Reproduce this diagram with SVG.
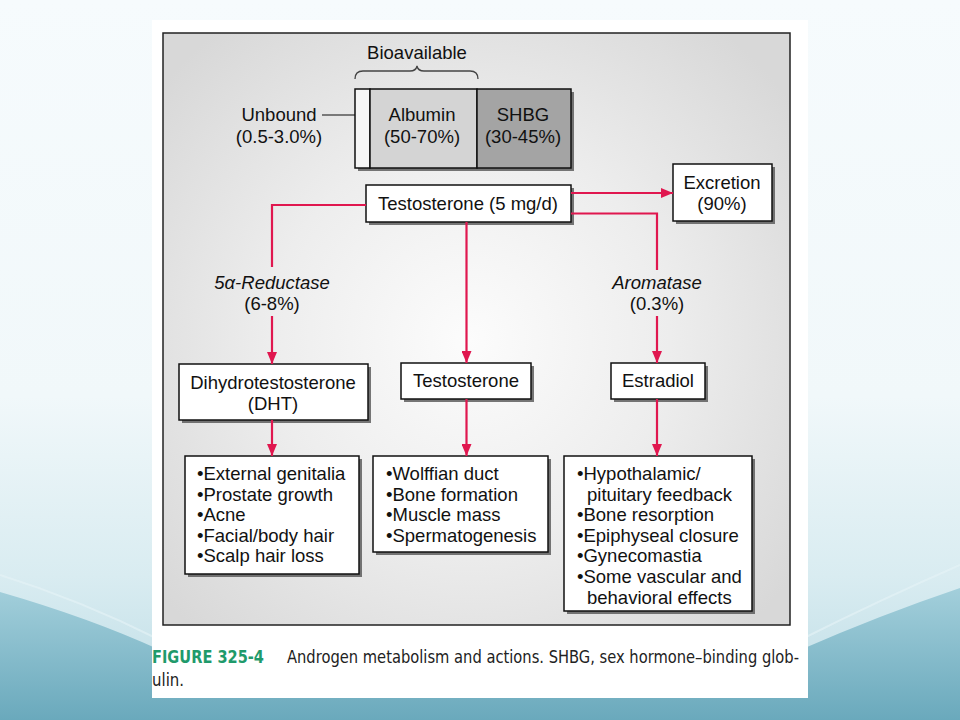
<svg xmlns="http://www.w3.org/2000/svg" width="960" height="720" viewBox="0 0 960 720">
<defs>
<linearGradient id="bg" x1="0" y1="0" x2="0" y2="1">
<stop offset="0" stop-color="#f6fbfd"/>
<stop offset="0.55" stop-color="#f1f8fa"/>
<stop offset="0.8" stop-color="#d9ecf1"/>
<stop offset="1" stop-color="#bcdce5"/>
</linearGradient>
<linearGradient id="wave" x1="0" y1="0" x2="0" y2="1">
<stop offset="0" stop-color="#a3cfdb"/>
<stop offset="1" stop-color="#6aa9bc"/>
</linearGradient>
<radialGradient id="panel" gradientUnits="userSpaceOnUse" cx="470" cy="340" r="400">
<stop offset="0" stop-color="#fcfcfc"/>
<stop offset="0.5" stop-color="#ededed"/>
<stop offset="1" stop-color="#d8d8d8"/>
</radialGradient>
<marker id="ah" viewBox="0 0 12 10" refX="12" refY="5" markerWidth="12" markerHeight="10" markerUnits="userSpaceOnUse" orient="auto">
<path d="M0,0 L12,5 L0,10 Z" fill="#e0174f"/>
</marker>
</defs>
<style>
.t{font-family:"Liberation Sans",Arial,sans-serif;font-size:18.5px;fill:#111}
.i{font-style:italic}
.m{text-anchor:middle}
.box{fill:#fff;stroke:#111;stroke-width:1.5}
.sh{fill:#555;opacity:0.8}
.red{fill:none;stroke:#e0174f;stroke-width:2.2}
.cap{font-family:"Liberation Sans Narrow","DejaVu Sans Condensed","Liberation Sans",sans-serif;font-size:17px;fill:#222}
</style>

<rect x="0" y="0" width="960" height="720" fill="url(#bg)"/>
<path d="M0,592 Q90,618 160,650 L800,650 Q880,615 960,588 L960,720 L0,720 Z" fill="url(#wave)"/>
<path d="M0,575 Q80,600 160,640" fill="none" stroke="#e6f3f6" stroke-width="2" opacity="0.6"/>
<path d="M960,565 Q880,600 800,640" fill="none" stroke="#e6f3f6" stroke-width="2" opacity="0.6"/>

<rect x="152" y="20" width="656" height="678" fill="#ffffff"/>
<rect x="163" y="33" width="627" height="592" fill="url(#panel)" stroke="#222" stroke-width="1.5"/>

<g id="bioavailable">
<text class="t m" x="417" y="59">Bioavailable</text>
<path d="M355,79 Q355,71 363,71 L410,71 Q416,71 417,66 Q418,71 424,71 L470,71 Q478,71 478,79" fill="none" stroke="#444" stroke-width="1.3"/>
</g>

<g id="unbound">
<text class="t m" x="279" y="121">Unbound</text>
<text class="t m" x="279" y="143">(0.5-3.0%)</text>
<line x1="322" y1="115" x2="363" y2="115" stroke="#555" stroke-width="1.3"/>
</g>

<g id="binding">
<rect class="sh" x="358" y="92" width="216" height="79"/>
<rect x="355" y="89" width="15" height="79" fill="#f6f6f6" stroke="#111" stroke-width="1.5"/>
<rect x="370" y="89" width="107" height="79" fill="#d4d4d4" stroke="#111" stroke-width="1.5"/>
<rect x="477" y="89" width="94" height="79" fill="#a4a4a4" stroke="#111" stroke-width="1.5"/>
<text class="t m" x="422" y="121">Albumin</text>
<text class="t m" x="422" y="143">(50-70%)</text>
<text class="t m" x="523" y="121">SHBG</text>
<text class="t m" x="523" y="143">(30-45%)</text>
</g>

<g id="testosterone-source">
<rect class="sh" x="369" y="188" width="205" height="37"/>
<rect class="box" x="366" y="185" width="205" height="37"/>
<text class="t m" x="468" y="210">Testosterone (5 mg/d)</text>
</g>

<g id="excretion">
<rect class="sh" x="676" y="167" width="99" height="57"/>
<rect class="box" x="673" y="164" width="99" height="57"/>
<text class="t m" x="722" y="189">Excretion</text>
<text class="t m" x="722" y="210">(90%)</text>
</g>

<g id="dht">
<rect class="sh" x="182" y="367" width="189" height="56"/>
<rect class="box" x="179" y="364" width="189" height="56"/>
<text class="t m" x="273" y="389">Dihydrotestosterone</text>
<text class="t m" x="273" y="410">(DHT)</text>
</g>

<g id="testosterone">
<rect class="sh" x="404" y="366" width="130" height="36"/>
<rect class="box" x="401" y="363" width="130" height="36"/>
<text class="t m" x="466" y="387">Testosterone</text>
</g>

<g id="estradiol">
<rect class="sh" x="614" y="366" width="94" height="36"/>
<rect class="box" x="611" y="363" width="94" height="36"/>
<text class="t m" x="658" y="387">Estradiol</text>
</g>

<g id="dht-actions">
<rect class="sh" x="188" y="459" width="174" height="118"/>
<rect class="box" x="185" y="456" width="174" height="118"/>
<text class="t" x="197" y="480">•External genitalia</text>
<text class="t" x="197" y="501">•Prostate growth</text>
<text class="t" x="197" y="521">•Acne</text>
<text class="t" x="197" y="542">•Facial/body hair</text>
<text class="t" x="197" y="562">•Scalp hair loss</text>
</g>

<g id="testosterone-actions">
<rect class="sh" x="376" y="459" width="175" height="96"/>
<rect class="box" x="373" y="456" width="175" height="96"/>
<text class="t" x="386" y="480">•Wolffian duct</text>
<text class="t" x="386" y="501">•Bone formation</text>
<text class="t" x="386" y="521">•Muscle mass</text>
<text class="t" x="386" y="542">•Spermatogenesis</text>
</g>

<g id="estradiol-actions">
<rect class="sh" x="567" y="459" width="188" height="155"/>
<rect class="box" x="564" y="456" width="188" height="155"/>
<text class="t" x="577" y="480">•Hypothalamic/</text>
<text class="t" x="587" y="501">pituitary feedback</text>
<text class="t" x="577" y="521">•Bone resorption</text>
<text class="t" x="577" y="542">•Epiphyseal closure</text>
<text class="t" x="577" y="562">•Gynecomastia</text>
<text class="t" x="577" y="583">•Some vascular and</text>
<text class="t" x="587" y="604">behavioral effects</text>
</g>

<g id="connectors">
<path class="red" d="M571,193 L673,193" marker-end="url(#ah)"/>
<path class="red" d="M366,205 L272,205 L272,267"/>
<path class="red" d="M272,316 L272,364" marker-end="url(#ah)"/>
<path class="red" d="M466.5,222 L466.5,363" marker-end="url(#ah)"/>
<path class="red" d="M571,213.5 L657,213.5 L657,270"/>
<path class="red" d="M657,316 L657,363" marker-end="url(#ah)"/>
<path class="red" d="M272,420 L272,456" marker-end="url(#ah)"/>
<path class="red" d="M466.5,399 L466.5,456" marker-end="url(#ah)"/>
<path class="red" d="M657,399 L657,456" marker-end="url(#ah)"/>
<text class="t i m" x="272" y="289">5α-Reductase</text>
<text class="t m" x="272" y="310">(6-8%)</text>
<text class="t i m" x="657" y="289">Aromatase</text>
<text class="t m" x="657" y="310">(0.3%)</text>
</g>

<g id="caption">
<text class="cap" x="152" y="663" font-weight="bold" fill="#1f9a6b" style="fill:#1f9a6b" textLength="112" lengthAdjust="spacingAndGlyphs">FIGURE 325-4</text>
<text class="cap" x="287" y="663" textLength="512" lengthAdjust="spacingAndGlyphs">Androgen metabolism and actions. SHBG, sex hormone–binding glob-</text>
<text class="cap" x="152" y="686" textLength="32" lengthAdjust="spacingAndGlyphs">ulin.</text>
</g>
</svg>
